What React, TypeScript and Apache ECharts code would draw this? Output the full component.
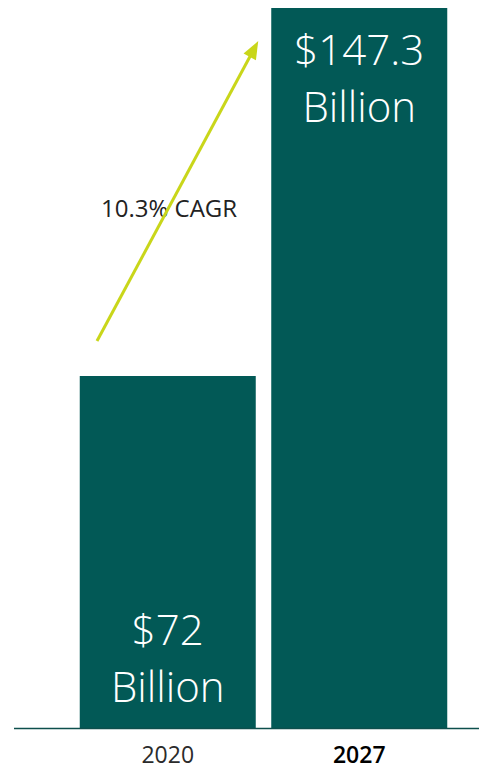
import React, { useEffect, useRef } from "react";
import * as echarts from "echarts";

const categories = ["2020", "2027"];
const values = [72, 147.3];
const valueLabels = ["$72\nBillion", "$147.3\nBillion"];
const cagrText = "10.3% CAGR";

export default function App() {
  const ref = useRef<HTMLDivElement>(null);
  useEffect(() => {
    if (!ref.current) return;
    const chart = echarts.init(ref.current, null, { renderer: "svg" });
    const font = "'Open Sans', 'Segoe UI', sans-serif";
    chart.setOption({
      animation: false,
      grid: { left: 72, right: 24, top: 8, bottom: 40 },
      xAxis: {
        type: "category",
        data: categories,
        axisLine: { show: false },
        axisTick: { show: false },
        axisLabel: {
          margin: 14,
          fontFamily: font,
          fontSize: 23,
          formatter: (v: string, i: number) => (i === 1 ? `{b|${v}}` : `{n|${v}}`),
          rich: {
            n: { fontFamily: font, fontSize: 23, color: "#2b2b2b", fontWeight: 400 },
            b: { fontFamily: font, fontSize: 23, color: "#000000", fontWeight: 600 },
          },
        },
      },
      yAxis: {
        type: "value",
        min: 0,
        max: 147.3,
        show: false,
        splitLine: { show: false },
      },
      graphic: [
        {
          type: "line",
          z: 10,
          shape: { x1: 14, y1: 728.5, x2: 479, y2: 728.5 },
          style: { stroke: "#0d4f4d", lineWidth: 1.5 },
        },
        {
          type: "text",
          z: 0,
          left: 101,
          top: 195,
          style: { text: cagrText, font: `400 24px ${font}`, fill: "#222222" },
        },
      ],
      series: [
        {
          type: "bar",
          data: values.map((v, i) => ({
            value: v,
            label: {
              show: true,
              position: i === 0 ? "insideBottom" : "insideTop",
              distance: i === 0 ? 14 : 12,
              formatter: valueLabels[i],
              color: "#ffffff",
              fontFamily: font,
              fontSize: 42,
              fontWeight: 300,
              lineHeight: 57,
            },
          })),
          barWidth: 176,
          itemStyle: { color: "#025956" },
          markLine: {
            silent: true,
            symbol: ["none", "triangle"],
            symbolSize: [14, 18],
            label: { show: false },
            lineStyle: { color: "#c9d61a", width: 3, type: "solid" },
            data: [[{ x: 97, y: 341 }, { x: 254, y: 49 }]],
          },
        },
      ],
    });
    return () => chart.dispose();
  }, []);
  return (
    <div
      ref={ref}
      style={{ position: "fixed", left: 0, top: 0, width: 479, height: 768, background: "#ffffff" }}
    />
  );
}
